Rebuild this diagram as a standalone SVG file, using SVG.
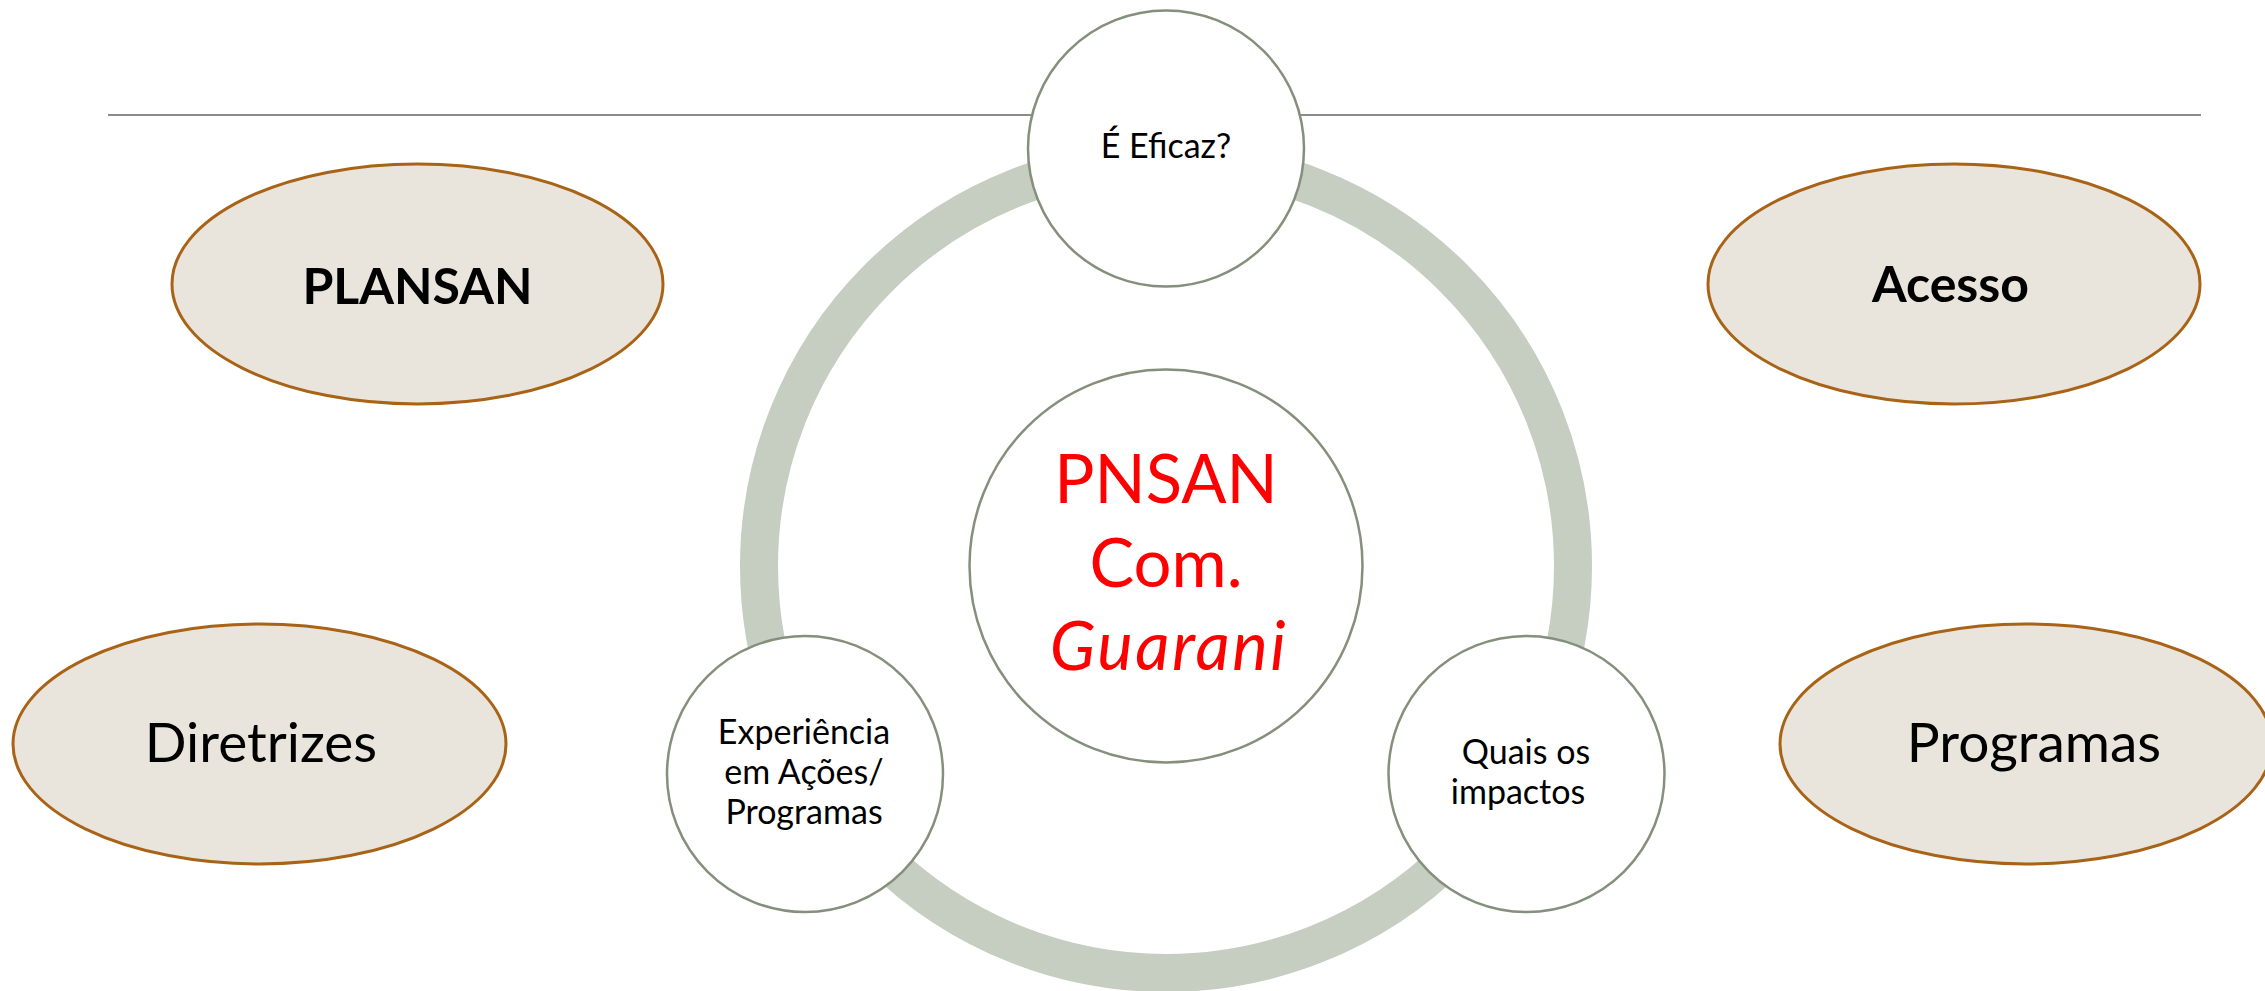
<svg xmlns="http://www.w3.org/2000/svg" width="2265" height="991" viewBox="0 0 2265 991">
<style>
.bg{fill:#ffffff}
.ring{fill:none;stroke:#c6cdc1;stroke-width:38}
.circ{fill:#ffffff;stroke:#848f7c;stroke-width:2.5}
.oval{fill:#e9e5dc;stroke:#a86317;stroke-width:3}
.t{font-family:Lato,"Liberation Sans",sans-serif;fill:#000000;text-anchor:middle}
.s{font-size:34px}
.big{font-size:55px}
.bold{font-size:50px;font-weight:bold}
.red{fill:#ff0000;font-size:67px}
</style>
<rect class="bg" x="0" y="0" width="2265" height="991"/>
<g id="connectors">
<line x1="108" y1="115" x2="2201" y2="115" stroke="#8c8c8c" stroke-width="2"/>
<circle class="ring" cx="1166" cy="566" r="407"/>
</g>
<g id="center">
<circle class="circ" cx="1166" cy="566" r="196.5"/>
<text class="t red" x="1166" y="503">PNSAN</text>
<text class="t red" x="1166" y="587">Com.</text>
<text class="t red" x="1169" y="670" font-style="italic" font-size="70" letter-spacing="2.5">Guarani</text>
</g>
<g id="eficaz">
<circle class="circ" cx="1166" cy="148.5" r="138"/>
<text class="t s" x="1166" y="158">É Eficaz?</text>
</g>
<g id="experiencia">
<circle class="circ" cx="805" cy="774" r="138"/>
<text class="t s" x="804" y="744">Experiência</text>
<text class="t s" x="804" y="784">em Ações/</text>
<text class="t s" x="804" y="824">Programas</text>
</g>
<g id="impactos">
<circle class="circ" cx="1526.5" cy="774" r="138"/>
<text class="t s" x="1526" y="764">Quais os</text>
<text class="t s" x="1518" y="804">impactos</text>
</g>
<g id="plansan">
<ellipse class="oval" cx="417.5" cy="284" rx="245.5" ry="120"/>
<text class="t bold" x="417.5" y="304">PLANSAN</text>
</g>
<g id="acesso">
<ellipse class="oval" cx="1954" cy="284" rx="246" ry="120"/>
<text class="t bold" x="1950.5" y="302" font-size="48">Acesso</text>
</g>
<g id="diretrizes">
<ellipse class="oval" cx="259.5" cy="744" rx="246.5" ry="120"/>
<text class="t big" x="261" y="762">Diretrizes</text>
</g>
<g id="programas">
<ellipse class="oval" cx="2026" cy="744" rx="246" ry="120"/>
<text class="t big" x="2034" y="762">Programas</text>
</g>
</svg>
